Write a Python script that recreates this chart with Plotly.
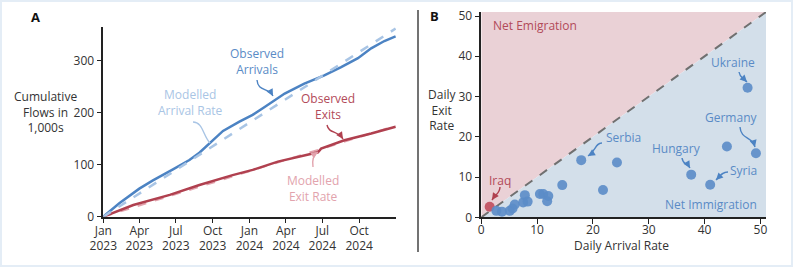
import plotly.graph_objects as go

W, H = 793, 267

# ---------------- Panel A data ----------------
arr_dates = ["2023-01-01", "2023-02-10", "2023-04-01", "2023-05-05", "2023-06-24", "2023-08-04",
             "2023-08-29", "2023-09-23", "2023-10-27", "2023-12-07", "2024-01-09", "2024-02-08",
             "2024-03-29", "2024-05-17", "2024-07-06", "2024-08-17", "2024-09-28", "2024-10-31",
             "2024-12-03", "2024-12-31"]
arr_vals = [0, 26, 54, 70, 91, 109, 123, 141, 165, 183, 196, 211, 237, 256, 272, 288, 305, 324, 338, 347]

exit_dates = ["2023-01-01", "2023-03-17", "2023-06-16", "2023-08-29", "2023-11-20", "2024-01-09",
              "2024-03-12", "2024-06-03", "2024-06-20", "2024-06-28", "2024-08-25", "2024-10-31",
              "2024-12-31"]
exit_vals = [0, 22.5, 42, 61, 80, 90, 106, 122, 124, 131, 147, 160, 173]

model_dates = ["2023-01-01", "2024-12-31"]
model_arr_vals = [0, 362]
model_exit_vals = [0, 175]

a_tickvals = ["2023-01-01", "2023-04-01", "2023-07-01", "2023-10-01",
              "2024-01-01", "2024-04-01", "2024-07-01", "2024-10-01"]
a_ticktext = ["Jan<br>2023", "Apr<br>2023", "Jul<br>2023", "Oct<br>2023",
              "Jan<br>2024", "Apr<br>2024", "Jul<br>2024", "Oct<br>2024"]
a_yticks = [0, 100, 200, 300]

# ---------------- Panel B data ----------------
countries = ["Iraq", "", "", "", "", "", "", "", "", "", "", "", "", "",
             "Serbia", "", "", "Hungary", "Syria", "", "Ukraine", "Germany"]
daily_arrival = [1.5, 2.7, 3.7, 5.1, 5.6, 6.0, 7.5, 7.8, 8.3, 10.5, 11.1, 12.0, 11.8, 14.5,
                 17.9, 21.8, 24.3, 37.6, 41.0, 44.0, 47.7, 49.2]
daily_exit = [2.6, 1.6, 1.4, 1.6, 2.2, 3.2, 3.7, 5.5, 3.9, 5.8, 5.8, 5.3, 4.0, 8.0,
              14.2, 6.8, 13.6, 10.6, 8.1, 17.6, 32.2, 15.9]
b_ticks = [0, 10, 20, 30, 40, 50]
b_max = 51

BLUE = "#4c83c3"
BLUE_T = "#5a8bc6"
LBLUE = "#a9c5e5"
RED = "#b0404f"
RED_T = "#b24a59"
PINK = "#e2a3ad"
DARK = "#333333"
FONT = "Open Sans"

fig = go.Figure()

# Panel A traces
fig.add_trace(go.Scatter(x=model_dates, y=model_exit_vals, mode="lines",
                         line=dict(color=PINK, width=2, dash="dash"), xaxis="x", yaxis="y"))
fig.add_trace(go.Scatter(x=exit_dates, y=exit_vals, mode="lines",
                         line=dict(color=RED, width=2.5), xaxis="x", yaxis="y"))
fig.add_trace(go.Scatter(x=arr_dates, y=arr_vals, mode="lines",
                         line=dict(color=BLUE, width=2.5), xaxis="x", yaxis="y"))
fig.add_trace(go.Scatter(x=model_dates, y=model_arr_vals, mode="lines",
                         line=dict(color=LBLUE, width=2.5, dash="dash"), xaxis="x", yaxis="y"))

# Panel B regions
fig.add_trace(go.Scatter(x=[0, 0, b_max, 0], y=[0, b_max, b_max, 0], mode="lines", fill="toself",
                         fillcolor="#ead1d6", line=dict(width=0), xaxis="x2", yaxis="y2"))
fig.add_trace(go.Scatter(x=[0, b_max, b_max, 0], y=[0, b_max, 0, 0], mode="lines", fill="toself",
                         fillcolor="#d3dfea", line=dict(width=0), xaxis="x2", yaxis="y2"))
fig.add_trace(go.Scatter(x=[0, b_max], y=[0, b_max], mode="lines",
                         line=dict(color="#707070", width=2, dash="dash"), xaxis="x2", yaxis="y2"))
colors = ["#c04d5d" if c == "Iraq" else "#5b8cc8" for c in countries]
fig.add_trace(go.Scatter(x=daily_arrival, y=daily_exit, mode="markers", text=countries,
                         marker=dict(color=colors, size=10, opacity=0.9, line=dict(width=0)),
                         xaxis="x2", yaxis="y2", cliponaxis=False))


def px(x):
    return x / W


def py(y):
    return 1 - y / H


axis_common = dict(showgrid=False, zeroline=False, showline=True, linecolor="#222222", linewidth=1.5,
                   ticks="outside", ticklen=5, tickcolor="#222222", tickwidth=1.2,
                   tickfont=dict(family=FONT, size=12, color=DARK))

fig.update_layout(
    width=W, height=H, showlegend=False,
    paper_bgcolor="white", plot_bgcolor="white",
    margin=dict(l=0, r=0, t=0, b=0, autoexpand=False),
    font=dict(family=FONT, size=12, color=DARK),
    xaxis=dict(domain=[px(103.3), px(396)], type="date", range=["2023-01-01", "2025-01-01"],
               tickvals=a_tickvals, ticktext=a_ticktext, anchor="y", ticklabelstandoff=-3, **axis_common),
    yaxis=dict(domain=[py(216.7), py(27)], range=[0, 365], tickvals=a_yticks, anchor="x", **axis_common),
    xaxis2=dict(domain=[px(481.3), px(766)], range=[0, b_max], tickvals=b_ticks, anchor="y2",
                ticklabelstandoff=-4, **axis_common),
    yaxis2=dict(domain=[py(217.3), py(12)], range=[0, b_max], tickvals=b_ticks, anchor="x2", **axis_common),
)

annotations = []


def text(x, y, t, color=DARK, size=12, anchor="center", bold=False):
    annotations.append(dict(x=px(x), y=py(y), xref="paper", yref="paper", text=("<b>%s</b>" % t) if bold else t,
                            showarrow=False, xanchor=anchor, yanchor="middle",
                            font=dict(family=FONT, size=size, color=color)))


text(35, 17, "A", color="#111111", size=13, bold=True)
text(434, 16, "B", color="#111111", size=13, bold=True)
text(45, 112, "Cumulative<br>Flows in<br>1,000s")
text(257, 61, "Observed<br>Arrivals", BLUE_T)
text(190, 102, "Modelled<br>Arrival Rate", LBLUE)
text(328, 106.5, "Observed<br>Exits", RED_T)
text(313, 188, "Modelled<br>Exit Rate", PINK)
text(442, 110, "Daily<br>Exit<br>Rate")
text(621, 245, "Daily Arrival Rate")
text(491, 25, "Net Emigration", RED_T, anchor="left")
text(759, 204, "Net Immigration", BLUE_T, anchor="right")
text(733, 62, "Ukraine", BLUE_T)
text(731, 118, "Germany", BLUE_T)
text(676, 148, "Hungary", BLUE_T)
text(743, 170, "Syria", BLUE_T)
text(623, 137, "Serbia", BLUE_T)
text(500, 180, "Iraq", RED_T)

shapes = []


def curve(p0, c1, c2, p1, color, head=True):
    d = "M %f %f C %f %f %f %f %f %f" % (px(p0[0]), py(p0[1]), px(c1[0]), py(c1[1]),
                                       px(c2[0]), py(c2[1]), px(p1[0]), py(p1[1]))
    shapes.append(dict(type="path", path=d, xref="paper", yref="paper",
                       line=dict(color=color, width=1.4)))
    if head:
        dx, dy = c2[0] - p1[0], c2[1] - p1[1]
        n = (dx * dx + dy * dy) ** 0.5
        annotations.append(dict(x=px(p1[0]), y=py(p1[1]), xref="paper", yref="paper", text="",
                                showarrow=True, arrowhead=2, arrowsize=1, arrowwidth=1.4,
                                arrowcolor=color, ax=dx / n * 5, ay=dy / n * 5))


curve((257, 80), (258, 92), (268, 87), (273, 96), BLUE)
curve((193, 122), (203, 122), (203, 136), (210, 143), LBLUE, head=False)
curve((327, 125), (329, 134), (337, 130), (343, 139), RED)
curve((313, 167), (312, 160), (313, 155), (318, 152), PINK)
curve((739, 72), (740, 78), (742, 77), (747, 82), BLUE)
curve((740, 127), (741, 140), (752, 136), (755, 147), BLUE)
curve((682, 158), (683, 165), (687, 163), (690, 168), BLUE)
curve((728, 172), (722, 172), (720, 176), (716, 180), BLUE)
curve((602, 143), (595, 143), (596, 151), (588, 156), BLUE)
curve((500, 187), (500, 193), (496, 194), (492, 200), "#b0404f")

# separator and frame
shapes.append(dict(type="line", xref="paper", yref="paper", x0=px(418), x1=px(418), y0=py(10), y1=py(252),
                   line=dict(color="#444444", width=1.5)))
shapes.append(dict(type="rect", xref="paper", yref="paper", x0=px(1), x1=px(792), y0=py(266), y1=py(1),
                   line=dict(color="#e4edf6", width=2)))

fig.update_layout(annotations=annotations, shapes=shapes)
fig.write_html("out.html", config={"displayModeBar": False},
               post_script="document.body.style.margin='0';document.body.style.overflow='hidden';")
